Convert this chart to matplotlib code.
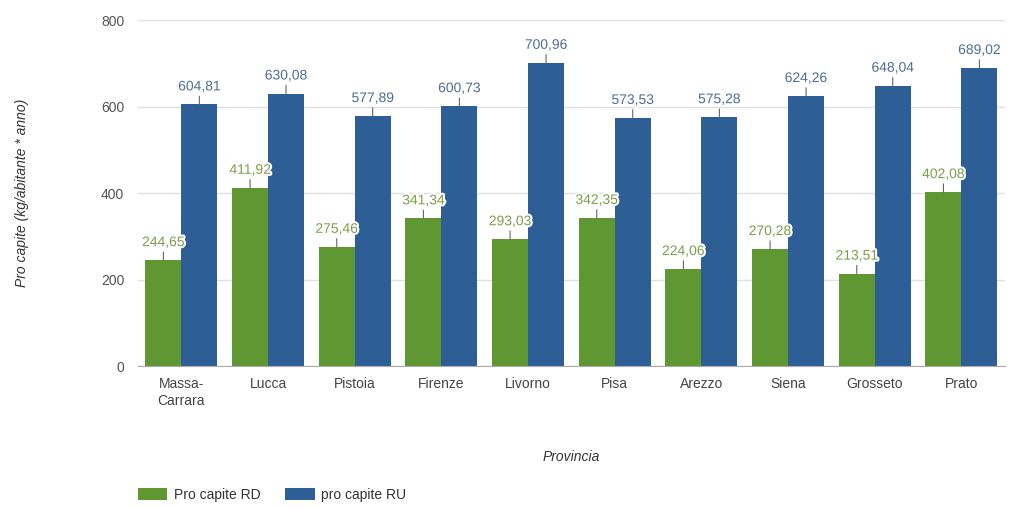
import matplotlib
matplotlib.use("Agg")
import matplotlib.pyplot as plt
import matplotlib.patheffects as pe
import numpy as np

plt.rcParams['font.family'] = ['Liberation Sans', 'DejaVu Sans']

provinces = ["Massa-\nCarrara", "Lucca", "Pistoia", "Firenze", "Livorno", "Pisa",
             "Arezzo", "Siena", "Grosseto", "Prato"]
rd = [244.65, 411.92, 275.46, 341.34, 293.03, 342.35, 224.06, 270.28, 213.51, 402.08]
ru = [604.81, 630.08, 577.89, 600.73, 700.96, 573.53, 575.28, 624.26, 648.04, 689.02]
yticks = [0, 200, 400, 600, 800]

green = '#5f9732'
blue = '#2d5f96'
green_txt = '#7e9f4a'
blue_txt = '#4d6f92'

fig = plt.figure(figsize=(10.09, 5.08), dpi=100)
ax = fig.add_axes([0.1368, 0.2795, 0.859, 0.681])

x = np.arange(len(provinces))
w = 0.415
b1 = ax.bar(x - w/2, rd, w, color=green, label='Pro capite RD', zorder=3)
b2 = ax.bar(x + w/2, ru, w, color=blue, label='pro capite RU', zorder=3)

def fmt(v):
    return f"{v:.2f}".replace('.', ',')

for bars, vals, col in [(b1, rd, green_txt), (b2, ru, blue_txt)]:
    for rect, v in zip(bars, vals):
        cx = rect.get_x() + rect.get_width() / 2
        ax.annotate(fmt(v), xy=(cx, v), xytext=(0, 13), textcoords='offset points',
                    ha='center', va='center', fontsize=10, color=col, zorder=5,
                    arrowprops=dict(arrowstyle='-', color='#666666', lw=0.8,
                                    shrinkA=0, shrinkB=0),
                    path_effects=[pe.withStroke(linewidth=3, foreground='white')])

ax.set_xlim(-0.5, len(provinces) - 0.5)
ax.set_ylim(0, 800)
ax.set_yticks(yticks)
ax.set_yticklabels([str(t) for t in yticks])
ax.set_xticks(x)
ax.set_xticklabels(provinces, fontsize=10, color='#444444', linespacing=1.3)
ax.tick_params(axis='y', length=0, labelsize=10, labelcolor='#555555', pad=10)
ax.tick_params(axis='x', length=0, pad=8)
ax.grid(axis='y', color='#e0e0e0', lw=1, zorder=0)
for s in ['top', 'right', 'left']:
    ax.spines[s].set_visible(False)
ax.spines['bottom'].set_color('#aaaaaa')
ax.spines['bottom'].set_zorder(4)

ax.set_ylabel('Pro capite (kg/abitante * anno)', fontsize=10, style='italic',
              color='#333333', labelpad=52)
ax.set_xlabel('Provincia', fontsize=10, style='italic', color='#333333', labelpad=30)

fig.legend(handles=[b1, b2], loc='lower left', bbox_to_anchor=(0.124, -0.012),
           ncol=2, frameon=False, fontsize=10, handlelength=2.1, handleheight=1.0,
           columnspacing=1.8, handletextpad=0.5, labelcolor='#333333')

fig.savefig('out.png', dpi=100)
